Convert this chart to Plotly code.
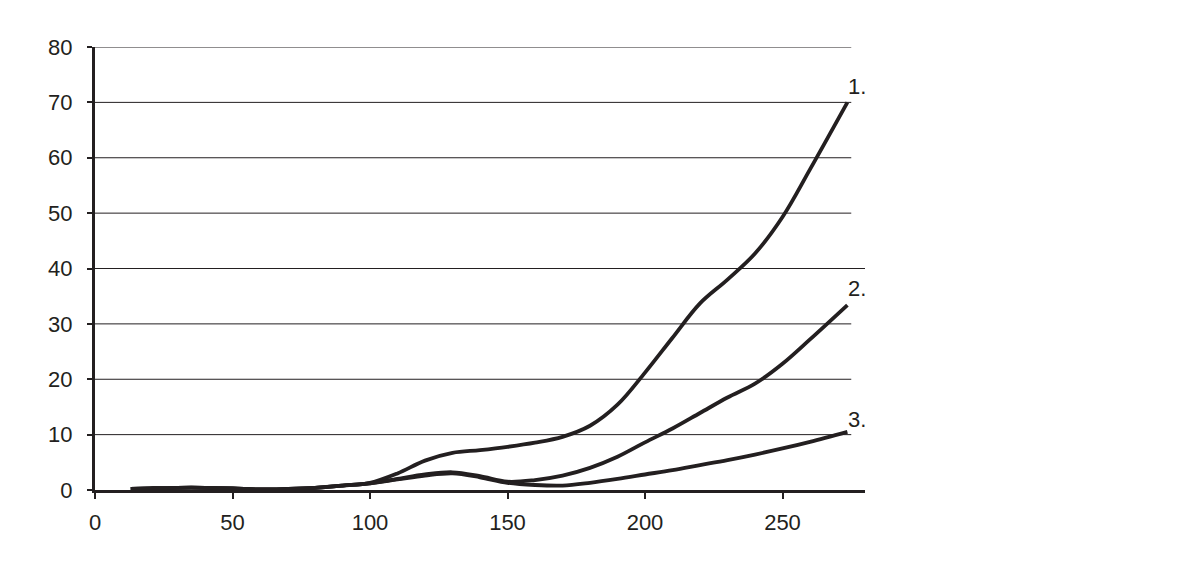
import plotly.graph_objects as go

xs_common = [13, 20, 30, 40, 50, 60, 70, 80, 90, 100, 110, 120, 130, 140, 150, 160, 170, 180,
             190, 200, 210, 220, 230, 240, 250, 260, 273.6]

y1 = [0.2, 0.3, 0.4, 0.4, 0.3, 0.1, 0.2, 0.4, 0.8, 1.3, 3.0, 5.3, 6.7, 7.2, 7.8, 8.55, 9.6, 11.6,
      15.4, 21.2, 27.5, 33.7, 38.0, 42.7, 49.3, 57.9, 70.0]
y2 = [0.2, 0.3, 0.4, 0.4, 0.3, 0.1, 0.2, 0.4, 0.8, 1.2, 2.0, 2.8, 3.2, 2.5, 1.5, 1.8, 2.6, 4.0,
      6.0, 8.6, 11.1, 13.9, 16.7, 19.2, 22.8, 27.2, 33.4]
y3 = [0.2, 0.3, 0.4, 0.4, 0.3, 0.1, 0.2, 0.4, 0.8, 1.2, 1.9, 2.6, 3.0, 2.3, 1.3, 0.9, 0.8, 1.3,
      2.0, 2.8, 3.6, 4.5, 5.4, 6.4, 7.5, 8.7, 10.5]

labels = ["1.", "2.", "3."]
label_y = [72.8, 36.3, 12.8]
grid_vals = [10, 20, 30, 40, 50, 60, 70, 80]

ink = "#231f20"
fnt = dict(family="Liberation Sans, Arial", size=22, color=ink)
fig = go.Figure()
for ys in [y1, y2, y3]:
    fig.add_trace(go.Scatter(x=xs_common, y=ys, mode="lines",
                             line=dict(color=ink, width=3.8, shape="spline", smoothing=1.0),
                             showlegend=False, hoverinfo="skip"))

for g in grid_vals:
    fig.add_shape(type="line", xref="x", yref="y", x0=0, x1=280 if g == 40 else 275,
                  y0=g, y1=g, line=dict(color=ink, width=1), layer="below")

for lab, ly in zip(labels, label_y):
    fig.add_annotation(x=277, y=ly, text=lab, showarrow=False, xref="x", yref="y", font=fnt)

fig.update_layout(
    width=1199, height=562,
    margin=dict(l=95, r=334, t=47, b=72),
    paper_bgcolor="white", plot_bgcolor="white",
    font=fnt,
    xaxis=dict(range=[0, 280], tickvals=[0, 50, 100, 150, 200, 250], showgrid=False,
               zeroline=False, showline=True, linecolor=ink, linewidth=3, tickfont=fnt,
               ticks="outside", ticklen=6, tickwidth=2, tickcolor=ink, ticklabelstandoff=5),
    yaxis=dict(range=[0, 80], tickvals=[0, 10, 20, 30, 40, 50, 60, 70, 80], showgrid=False,
               zeroline=False, showline=True, linecolor=ink, linewidth=3, tickfont=fnt,
               ticks="outside", ticklen=5, tickwidth=2, tickcolor=ink, ticklabelstandoff=10),
)
fig.write_html("out.html")
